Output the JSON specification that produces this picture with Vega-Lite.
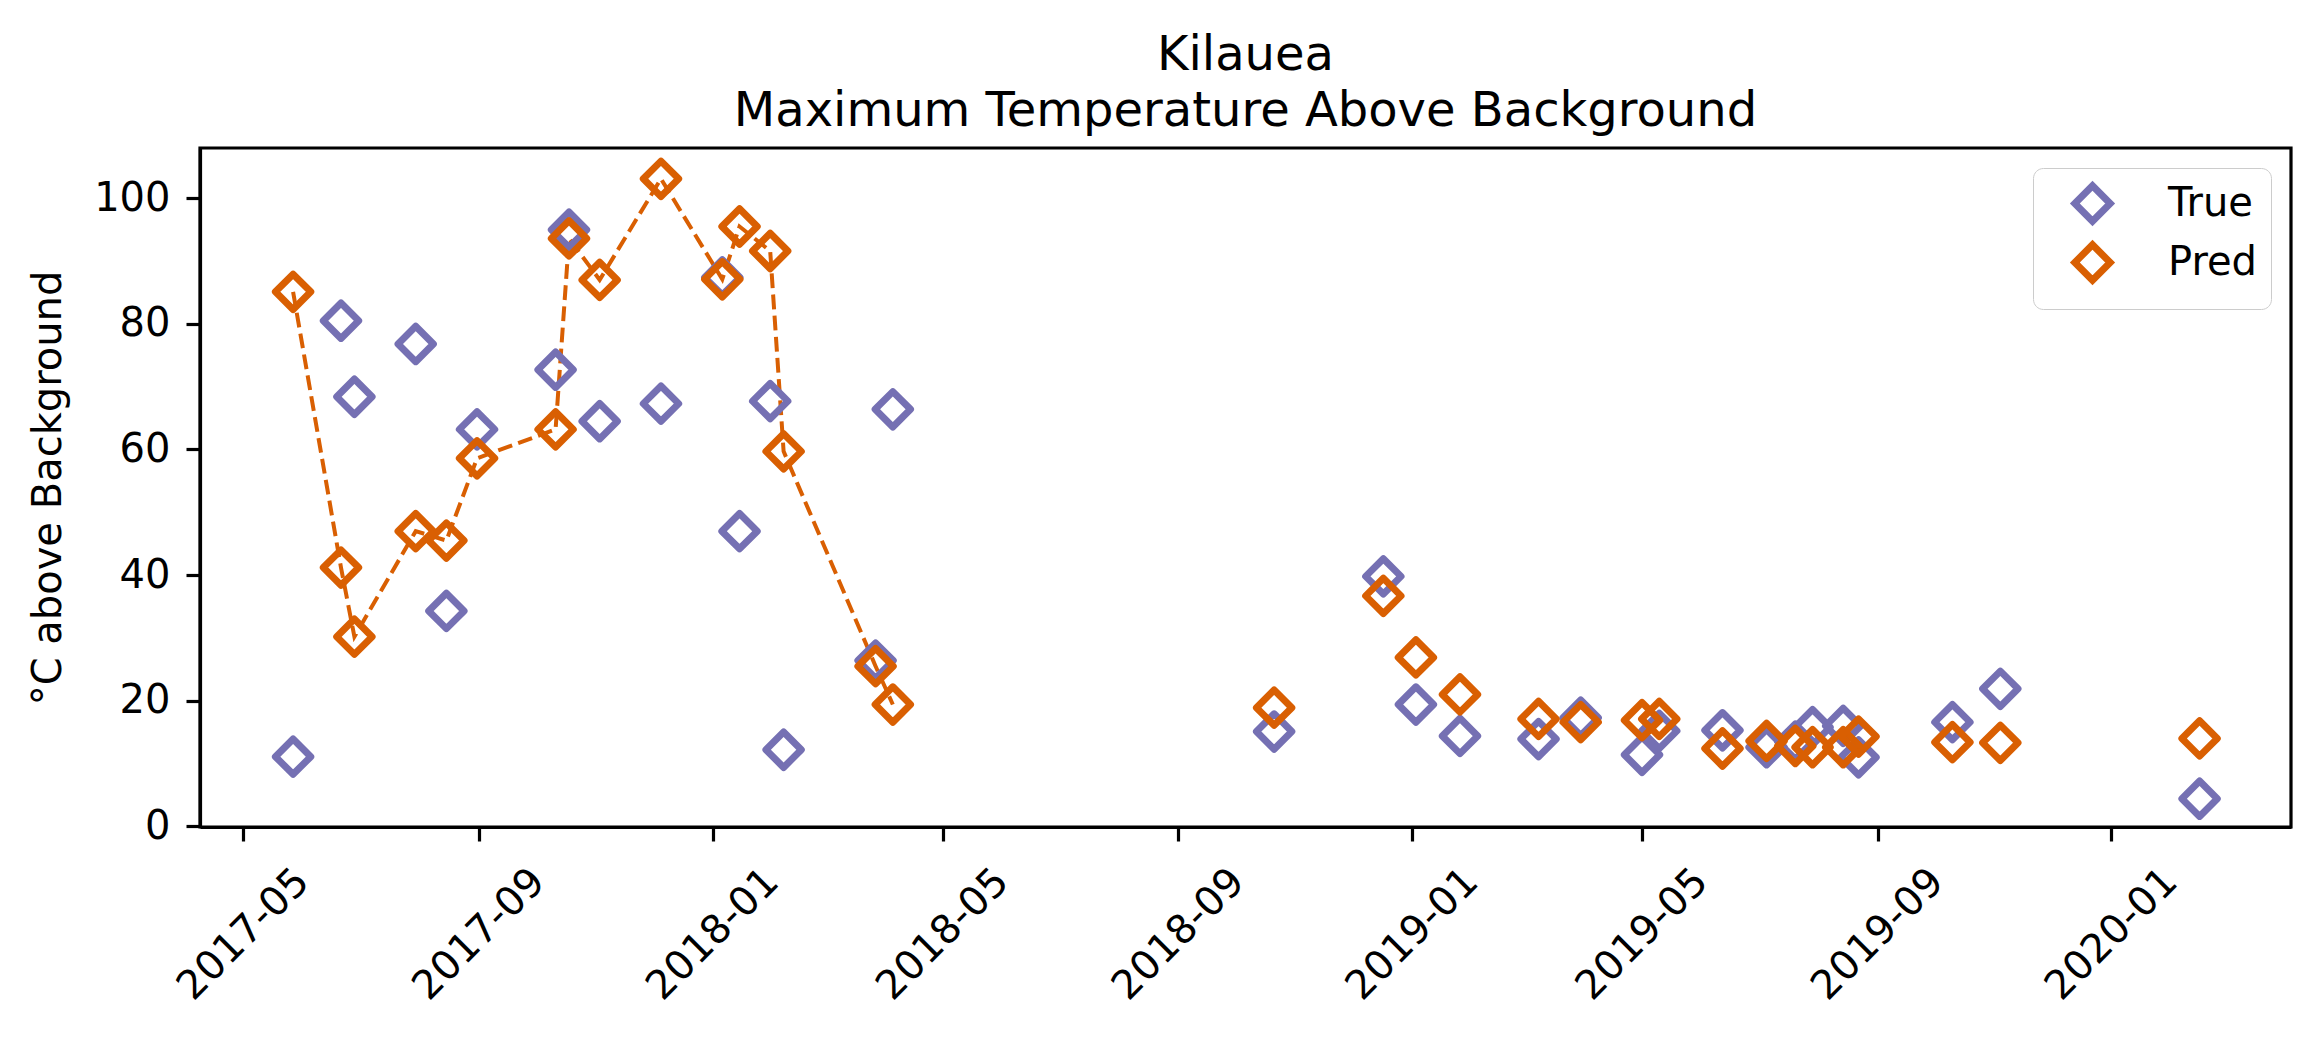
{
  "$schema": "https://vega.github.io/schema/vega-lite/v6.json",
  "width": 2091,
  "height": 679,
  "autosize": {"type": "none"},
  "padding": {"left": 200, "top": 148, "right": 30, "bottom": 211},
  "background": "#ffffff",
  "config": {
    "font": "DejaVu Sans",
    "view": {"stroke": "#000000", "strokeWidth": 3.2},
    "axis": {
      "grid": false,
      "domainColor": "#000000",
      "domainWidth": 3.2,
      "tickColor": "#000000",
      "tickWidth": 3.2,
      "tickSize": 14,
      "labelColor": "#000000",
      "labelFont": "DejaVu Sans",
      "labelFontSize": 40,
      "titleColor": "#000000",
      "titleFont": "DejaVu Sans",
      "titleFontSize": 40,
      "titleFontWeight": "normal"
    }
  },
  "title": {
    "text": ["Kilauea", "Maximum Temperature Above Background"],
    "font": "DejaVu Sans",
    "fontSize": 48,
    "fontWeight": "normal",
    "color": "#000000",
    "anchor": "middle",
    "frame": "group",
    "lineHeight": 56,
    "offset": 12
  },
  "data": {
    "format": {"parse": {"date": "utc:'%Y-%m-%d'"}},
    "values": [
      {"date": "2017-05-27", "series": "True", "value": 11.1},
      {"date": "2017-06-21", "series": "True", "value": 80.5},
      {"date": "2017-06-28", "series": "True", "value": 68.4},
      {"date": "2017-07-30", "series": "True", "value": 76.8},
      {"date": "2017-08-15", "series": "True", "value": 34.3},
      {"date": "2017-08-31", "series": "True", "value": 63.2},
      {"date": "2017-10-11", "series": "True", "value": 72.7},
      {"date": "2017-10-18", "series": "True", "value": 95.0},
      {"date": "2017-11-03", "series": "True", "value": 64.5},
      {"date": "2017-12-05", "series": "True", "value": 67.3},
      {"date": "2018-01-06", "series": "True", "value": 87.4},
      {"date": "2018-01-15", "series": "True", "value": 47.0},
      {"date": "2018-01-31", "series": "True", "value": 67.7},
      {"date": "2018-02-07", "series": "True", "value": 12.2},
      {"date": "2018-03-27", "series": "True", "value": 26.4},
      {"date": "2018-04-05", "series": "True", "value": 66.4},
      {"date": "2018-10-21", "series": "True", "value": 15.1},
      {"date": "2018-12-17", "series": "True", "value": 39.8},
      {"date": "2019-01-03", "series": "True", "value": 19.4},
      {"date": "2019-01-26", "series": "True", "value": 14.4},
      {"date": "2019-03-08", "series": "True", "value": 13.9},
      {"date": "2019-03-30", "series": "True", "value": 17.3},
      {"date": "2019-05-01", "series": "True", "value": 11.4},
      {"date": "2019-05-10", "series": "True", "value": 15.2},
      {"date": "2019-06-12", "series": "True", "value": 15.3},
      {"date": "2019-07-05", "series": "True", "value": 12.6},
      {"date": "2019-07-20", "series": "True", "value": 13.5},
      {"date": "2019-07-29", "series": "True", "value": 15.8},
      {"date": "2019-08-14", "series": "True", "value": 16.0},
      {"date": "2019-08-22", "series": "True", "value": 11.0},
      {"date": "2019-10-10", "series": "True", "value": 16.6},
      {"date": "2019-11-04", "series": "True", "value": 21.9},
      {"date": "2020-02-16", "series": "True", "value": 4.4},
      {"date": "2017-05-27", "series": "Pred", "value": 85.1},
      {"date": "2017-06-21", "series": "Pred", "value": 41.2},
      {"date": "2017-06-28", "series": "Pred", "value": 30.2},
      {"date": "2017-07-30", "series": "Pred", "value": 47.0},
      {"date": "2017-08-15", "series": "Pred", "value": 45.5},
      {"date": "2017-08-31", "series": "Pred", "value": 58.6},
      {"date": "2017-10-11", "series": "Pred", "value": 63.2},
      {"date": "2017-10-18", "series": "Pred", "value": 93.6},
      {"date": "2017-11-03", "series": "Pred", "value": 87.0},
      {"date": "2017-12-05", "series": "Pred", "value": 103.1},
      {"date": "2018-01-06", "series": "Pred", "value": 87.1},
      {"date": "2018-01-15", "series": "Pred", "value": 95.5},
      {"date": "2018-01-31", "series": "Pred", "value": 91.6},
      {"date": "2018-02-07", "series": "Pred", "value": 59.7},
      {"date": "2018-03-27", "series": "Pred", "value": 25.5},
      {"date": "2018-04-05", "series": "Pred", "value": 19.4},
      {"date": "2018-10-21", "series": "Pred", "value": 18.9},
      {"date": "2018-12-17", "series": "Pred", "value": 36.7},
      {"date": "2019-01-03", "series": "Pred", "value": 26.9},
      {"date": "2019-01-26", "series": "Pred", "value": 21.0},
      {"date": "2019-03-08", "series": "Pred", "value": 17.1},
      {"date": "2019-03-30", "series": "Pred", "value": 16.6},
      {"date": "2019-05-01", "series": "Pred", "value": 16.9},
      {"date": "2019-05-10", "series": "Pred", "value": 17.1},
      {"date": "2019-06-12", "series": "Pred", "value": 12.4},
      {"date": "2019-07-05", "series": "Pred", "value": 13.6},
      {"date": "2019-07-20", "series": "Pred", "value": 12.8},
      {"date": "2019-07-29", "series": "Pred", "value": 12.6},
      {"date": "2019-08-14", "series": "Pred", "value": 12.6},
      {"date": "2019-08-22", "series": "Pred", "value": 14.3},
      {"date": "2019-10-10", "series": "Pred", "value": 13.4},
      {"date": "2019-11-04", "series": "Pred", "value": 13.3},
      {"date": "2020-02-16", "series": "Pred", "value": 14.0}
    ]
  },
  "encoding": {
    "x": {
      "field": "date",
      "type": "temporal",
      "title": null,
      "scale": {
        "type": "utc",
        "domain": [
          {"year": 2017, "month": 4, "date": 8, "hours": 10, "utc": true},
          {"year": 2020, "month": 4, "date": 3, "hours": 17, "utc": true}
        ]
      },
      "axis": {
        "values": [
          {"year": 2017, "month": 5, "date": 1, "utc": true},
          {"year": 2017, "month": 9, "date": 1, "utc": true},
          {"year": 2018, "month": 1, "date": 1, "utc": true},
          {"year": 2018, "month": 5, "date": 1, "utc": true},
          {"year": 2018, "month": 9, "date": 1, "utc": true},
          {"year": 2019, "month": 1, "date": 1, "utc": true},
          {"year": 2019, "month": 5, "date": 1, "utc": true},
          {"year": 2019, "month": 9, "date": 1, "utc": true},
          {"year": 2020, "month": 1, "date": 1, "utc": true}
        ],
        "format": "%Y-%m",
        "labelAngle": -45,
        "labelAlign": "center",
        "labelBaseline": "middle",
        "labelPadding": 93,
        "labelOverlap": false
      }
    },
    "y": {
      "field": "value",
      "type": "quantitative",
      "title": "°C above Background",
      "scale": {"domain": [-0.1, 108], "nice": false, "zero": false},
      "axis": {
        "values": [0, 20, 40, 60, 80, 100],
        "labelPadding": 16,
        "titlePadding": 25
      }
    }
  },
  "layer": [
    {
      "transform": [
        {
          "filter": {
            "and": [
              {"field": "series", "equal": "Pred"},
              {"field": "date", "lt": {"year": 2018, "month": 6, "date": 1, "utc": true}}
            ]
          }
        }
      ],
      "mark": {
        "type": "line",
        "color": "#d95f02",
        "strokeWidth": 4,
        "strokeDash": [14.8, 6.4]
      }
    },
    {
      "mark": {
        "type": "point",
        "shape": "diamond",
        "filled": false,
        "size": 1250,
        "strokeWidth": 7,
        "strokeJoin": "round",
        "opacity": 1
      },
      "encoding": {
        "color": {
          "field": "series",
          "type": "nominal",
          "scale": {"domain": ["True", "Pred"], "range": ["#7570b3", "#d95f02"]},
          "legend": {
            "title": null,
            "orient": "top-right",
            "offset": 20,
            "padding": 14,
            "rowPadding": -6,
            "symbolType": "diamond",
            "symbolSize": 1250,
            "symbolStrokeWidth": 7,
            "symbolOffset": 24,
            "labelOffset": 54,
            "labelFont": "DejaVu Sans",
            "labelFontSize": 40,
            "labelColor": "#000000",
            "strokeColor": "#cccccc",
            "cornerRadius": 10,
            "fillColor": "#ffffff"
          }
        }
      }
    }
  ]
}
